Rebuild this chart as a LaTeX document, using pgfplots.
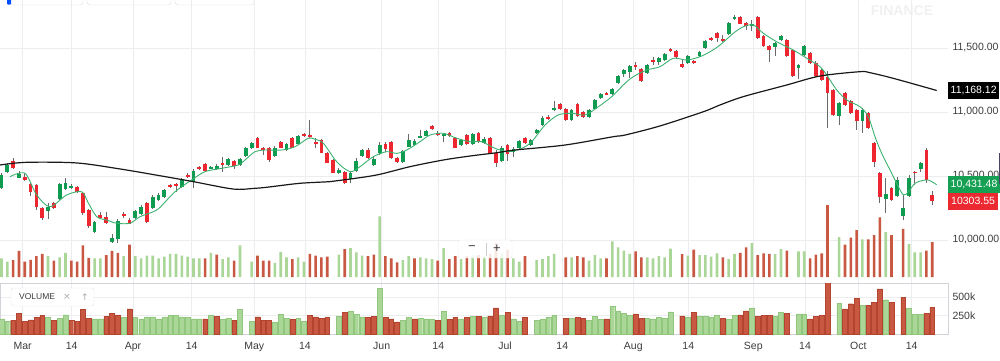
\documentclass[border=0pt]{standalone}
\usepackage{pgfplots}
\pgfplotsset{compat=1.18}
\usepackage{pgfplotstable}
\usepackage{fontspec}
\setmainfont{Liberation Sans}
\newfontfamily\symfont{DejaVu Sans}

\definecolor{cup}{RGB}{16,156,80}
\definecolor{cdn}{RGB}{238,38,48}
\definecolor{wick}{RGB}{105,105,105}
\definecolor{magreen}{RGB}{60,178,112}
\definecolor{mablack}{RGB}{25,25,25}
\definecolor{vg}{RGB}{170,214,152}
\definecolor{vgd}{RGB}{145,198,125}
\definecolor{vr}{RGB}{200,88,66}
\definecolor{vrd}{RGB}{178,68,48}
\definecolor{gridc}{RGB}{236,237,239}
\definecolor{panel}{RGB}{208,212,216}
\definecolor{txt}{RGB}{60,60,60}
\definecolor{tagg}{RGB}{22,160,84}
\definecolor{tagr}{RGB}{236,40,48}

\newcommand\tf{\fontsize{10.5}{12}\selectfont}

% ---------- candles: rising ----------
\pgfplotstableread{
k o h l c
0 10409 10523 10398 10508
1 10534 10599 10527 10586
3 10487 10539 10482 10513
8 10229 10287 10164 10260
10 10318 10445 10313 10435
11 10398 10487 10391 10443
12 10409 10435 10398 10424
16 10065 10148 10055 10138
19 9987 10045 9974 10013
20 10008 10164 9979 10148
23 10170 10234 10164 10227
24 10201 10273 10195 10260
26 10248 10352 10242 10338
27 10313 10365 10305 10352
28 10338 10398 10331 10391
31 10416 10484 10410 10477
33 10456 10552 10409 10541
36 10560 10578 10555 10573
37 10555 10591 10547 10578
39 10586 10638 10578 10631
41 10586 10641 10578 10631
42 10659 10729 10651 10716
43 10716 10766 10711 10756
47 10659 10731 10651 10721
49 10703 10758 10695 10750
51 10748 10820 10742 10813
58 10526 10560 10516 10547
60 10474 10535 10443 10526
61 10539 10638 10531 10617
62 10656 10713 10648 10703
64 10586 10651 10578 10631
65 10677 10763 10664 10742
69 10607 10703 10599 10695
70 10729 10826 10723 10781
71 10742 10789 10734 10776
72 10801 10859 10795 10807
73 10815 10863 10809 10854
76 10818 10838 10768 10828
79 10740 10789 10731 10781
81 10748 10836 10742 10826
83 10756 10807 10748 10787
86 10620 10731 10612 10721
88 10685 10723 10651 10711
89 10716 10781 10711 10773
91 10742 10789 10734 10781
92 10834 10870 10826 10859
93 10898 10965 10891 10956
95 11016 11086 11008 11034
98 10938 11023 10930 11016
101 10963 11023 10953 11016
102 11023 11102 11016 11094
103 11107 11146 11099 11138
105 11138 11190 11131 11177
106 11224 11293 11216 11284
107 11295 11336 11276 11328
108 11315 11367 11268 11359
111 11302 11375 11295 11367
113 11388 11432 11367 11424
114 11406 11461 11398 11453
118 11381 11443 11373 11435
120 11438 11479 11430 11471
121 11504 11563 11496 11555
125 11606 11701 11598 11693
126 11727 11758 11719 11742
129 11674 11719 11633 11685
133 11510 11549 11435 11541
134 11563 11602 11555 11594
137 11341 11375 11256 11367
138 11445 11523 11438 11516
144 10969 11081 10898 11073
148 10932 11029 10834 11016
152 10320 10482 10213 10357
154 10344 10495 10336 10469
155 10190 10352 10156 10248
156 10346 10508 10338 10487
158 10555 10607 10531 10599
}\upc

% ---------- candles: falling ----------
\pgfplotstableread{
k o h l c
2 10617 10638 10555 10560
4 10495 10521 10461 10466
5 10438 10445 10346 10373
6 10430 10438 10234 10260
7 10248 10258 10159 10170
9 10287 10299 10242 10248
13 10416 10424 10365 10377
14 10365 10375 10195 10209
15 10232 10242 10096 10112
17 10195 10221 10164 10170
18 10182 10221 10125 10131
21 10203 10221 10174 10188
22 10156 10170 10123 10127
25 10287 10297 10131 10143
29 10430 10440 10404 10414
30 10438 10448 10377 10422
32 10508 10526 10482 10490
34 10570 10581 10545 10555
35 10591 10599 10534 10539
38 10602 10646 10534 10586
40 10617 10625 10552 10581
44 10795 10805 10715 10721
45 10721 10729 10664 10701
46 10716 10724 10612 10625
48 10768 10777 10715 10721
50 10795 10805 10715 10721
52 10826 10834 10802 10810
53 10820 10938 10795 10805
54 10768 10795 10716 10750
55 10781 10789 10676 10682
56 10682 10690 10598 10604
57 10625 10633 10520 10526
59 10534 10541 10435 10448
63 10703 10721 10631 10638
66 10748 10768 10690 10709
67 10768 10777 10631 10638
68 10643 10651 10599 10607
74 10893 10902 10859 10865
75 10838 10848 10813 10820
77 10834 10841 10807 10815
78 10795 10802 10715 10721
80 10823 10832 10742 10748
82 10834 10846 10760 10768
84 10795 10802 10670 10677
85 10677 10703 10573 10599
87 10742 10750 10617 10670
90 10795 10802 10748 10756
94 10963 10977 10938 10951
96 11063 11070 11016 11023
97 11023 11031 10930 10938
99 11063 11070 10961 10969
100 11002 11010 10956 10963
104 11151 11160 11131 11138
109 11367 11388 11328 11349
110 11334 11341 11234 11242
112 11406 11432 11367 11388
115 11492 11500 11466 11474
116 11474 11482 11418 11426
117 11373 11406 11346 11354
119 11398 11406 11373 11381
122 11576 11586 11552 11560
123 11615 11623 11549 11582
124 11568 11602 11545 11555
127 11742 11750 11684 11691
128 11693 11701 11641 11674
130 11746 11754 11568 11576
131 11594 11602 11508 11516
132 11516 11523 11393 11484
135 11563 11570 11430 11438
136 11481 11488 11277 11285
139 11463 11471 11373 11381
140 11381 11398 11273 11281
141 11326 11334 11242 11250
142 11276 11323 10873 11146
143 11172 11180 10969 10977
145 11146 11154 11047 11055
146 11088 11096 10982 10990
147 11016 11023 10859 10932
149 10990 10998 10865 10873
150 10760 10768 10573 10612
151 10521 10529 10291 10338
153 10404 10412 10305 10313
157 10534 10541 10430 10521
159 10703 10716 10448 10469
160 10352 10385 10273 10303.55
}\dnc

% ---------- volume (thousands) ----------
\pgfplotstableread{
k v
0 205
1 173
8 228
10 214
11 260
16 205
17 205
21 228
23 228
24 205
25 232
26 232
27 205
28 223
29 250
30 250
31 232
32 223
33 205
34 205
36 260
38 196
39 214
41 332
43 173
47 159
48 269
49 214
51 214
52 173
58 241
60 305
61 264
62 232
65 619
69 187
70 228
72 214
73 205
74 196
76 305
79 196
81 237
83 228
86 250
88 205
89 173
92 187
93 196
94 228
95 250
98 214
101 182
102 237
103 205
105 373
106 314
107 282
108 250
111 214
112 205
113 228
114 214
115 300
118 232
120 237
121 237
122 223
123 255
125 196
126 250
129 355
133 246
134 296
137 273
138 273
144 414
148 392
152 464
156 346
157 264
158 264
}\volG

\pgfplotstableread{
k v
2 187
3 278
4 173
5 191
6 228
7 250
9 182
12 182
13 173
14 332
15 209
18 237
19 278
20 260
22 341
35 205
37 241
40 182
44 232
45 182
46 182
50 196
53 250
54 232
55 214
56 223
59 296
63 228
64 241
66 228
67 205
68 164
71 205
75 182
77 196
78 228
80 228
82 237
84 246
85 355
87 291
90 228
97 214
99 228
100 214
104 205
109 273
110 214
117 246
119 291
124 214
127 260
128 314
130 237
131 255
132 250
135 282
139 205
140 241
141 255
142 730
145 341
146 410
147 483
149 392
150 433
151 610
153 433
155 496
159 282
160 364
}\volR

% ---------- moving averages ----------
\pgfplotstableread{
k p
1.46 10495
4.04 10521
6.05 10352
8.34 10260
11.21 10352
13.79 10377
14.92 10290
16.37 10182
18.09 10156
19.8 10131
22.09 10131
23.81 10182
26.1 10221
27.25 10255
29.83 10377
32.7 10469
34.98 10534
37.85 10560
40.71 10586
41.86 10625
43.58 10690
45.3 10703
48.17 10703
50.46 10729
52.74 10795
53.9 10787
55.32 10756
57.62 10612
59.91 10534
61.63 10573
63.92 10651
66.22 10690
67.94 10677
69.66 10703
71.94 10768
73.66 10820
75.95 10834
78.25 10795
80.54 10768
82.55 10768
84.84 10716
87.12 10690
89.43 10716
91.15 10768
93.43 10898
95.72 10977
98.02 10990
100.31 10977
102.6 11041
104.9 11120
107.19 11224
108.61 11276
110.92 11328
113.2 11354
115.49 11420
117.79 11406
120.08 11432
121.8 11471
123.52 11523
125.8 11615
127.52 11666
129.24 11680
130.96 11615
133.26 11549
136.12 11484
138.42 11420
140.71 11354
141.86 11289
143.58 11172
145.3 11094
147.59 11041
149.01 10963
150.16 10807
151.31 10677
152.74 10547
153.89 10443
155.03 10352
155.89 10377
157.04 10443
158.19 10463
159.33 10469
160.77 10431.48
}\maG

\pgfplotstableread{
k p
-0.26 10586
4.33 10607
12.93 10602
20.37 10555
27.25 10502
32.97 10456
39.85 10398
43.58 10404
45.59 10412
51.31 10443
56.47 10456
58.76 10469
64.5 10508
70.23 10573
75.95 10625
80.54 10656
85.13 10682
88.28 10703
96.87 10742
105.17 10807
107.19 10820
113.2 10891
120.65 11002
123.52 11055
127.52 11120
134.98 11211
140.71 11281
147.59 11315
149.3 11307
153.31 11263
160.77 11168.12
}\maB

\begin{document}
\begin{tikzpicture}[x=1pt,y=1pt]
\useasboundingbox (0,0) rectangle (1000,360);
\clip (0,0) rectangle (1000,360);

% top toolbar fragments and watermark
\draw[gray!25, fill=white, rounded corners=3pt] (10,355) rectangle (83,372);
\draw[gray!25, fill=white, rounded corners=3pt] (87,355) rectangle (171,372);
\draw[gray!25, fill=white, rounded corners=3pt] (175,355) rectangle (254,372);
\fill[blue!70!cyan, rounded corners=1pt] (7,355.5) rectangle (11,362);
\node[font=\bfseries\fontsize{14}{16}\selectfont, text=gray!12, inner sep=0pt] at (902,349) {FINANCE};

% background: grid and price labels, month labels
\begin{axis}[at={(0pt,26pt)}, anchor=south west, scale only axis,
  width=948pt, height=334pt,
  xmin=-0.258, xmax=162.71, ymin=9265.6, ymax=11875,
  axis line style={draw=none}, major tick length=0pt,
  xmajorgrids, ymajorgrids, grid style={gridc, line width=0.7pt},
  xtick={3.64,12.07,22.6,32.7,43.46,52.17,65.36,75.09,86.56,96.4,108.61,118.07,129.24,138.13,147.29,156.47},
  xticklabels={Mar,14,Apr,14,May,14,Jun,14,Jul,14,Aug,14,Sep,14,Oct,14},
  xticklabel style={font=\tf, text=txt, yshift=-4.5pt},
  ytick={10000,10500,11000,11500},
  yticklabels={{10,000.00},{10,500.00},{11,000.00},{11,500.00}},
  yticklabel pos=right,
  yticklabel style={font=\tf, text=txt, anchor=west, xshift=1pt},
]
\addplot[draw=none] coordinates {(0,10000)};
\end{axis}

% volume overlay in price panel
\begin{axis}[at={(0pt,83pt)}, anchor=south west, scale only axis,
  width=948pt, height=277pt,
  xmin=-0.258, xmax=162.71, ymin=20.7, ymax=2755,
  hide axis, ybar, bar width=2.6pt, bar shift=0pt]
\addplot[fill=vg, draw=none] table[x=k,y=v]{\volG};
\addplot[fill=vr, draw=none] table[x=k,y=v]{\volR};
\end{axis}

% bottom volume panel
\begin{axis}[at={(0pt,26pt)}, anchor=south west, scale only axis,
  width=948pt, height=51pt,
  xmin=-0.258, xmax=162.71, ymin=0, ymax=690,
  ybar, bar width=4.8pt, bar shift=0pt,
  axis line style={panel, line width=0.8pt},
  xtick=\empty, ytick={250,500}, yticklabels={250k,500k},
  yticklabel pos=right,
  yticklabel style={font=\tf, text=txt, anchor=west, xshift=1pt},
  major tick length=0pt, ymajorgrids, grid style={gridc, line width=0.6pt}]
\addplot[fill=vg, draw=vgd, line width=0.4pt] table[x=k,y=v]{\volG};
\addplot[fill=vr, draw=vrd, line width=0.4pt] table[x=k,y=v]{\volR};
\end{axis}

% price panel
\begin{axis}[at={(0pt,26pt)}, anchor=south west, scale only axis,
  width=948pt, height=334pt,
  xmin=-0.258, xmax=162.71, ymin=9265.6, ymax=11875,
  hide axis, clip=false]
% wicks
\addplot[draw=none, forget plot, error bars/.cd, y dir=both, y explicit, error mark=none,
  error bar style={draw=wick, line width=0.9pt}]
  table[x=k, y expr={(\thisrow{h}+\thisrow{l})/2}, y error expr={(\thisrow{h}-\thisrow{l})/2}] {\upc};
\addplot[draw=none, forget plot, error bars/.cd, y dir=both, y explicit, error mark=none,
  error bar style={draw=wick, line width=0.9pt}]
  table[x=k, y expr={(\thisrow{h}+\thisrow{l})/2}, y error expr={(\thisrow{h}-\thisrow{l})/2}] {\dnc};
% bodies
\addplot[draw=none, forget plot, error bars/.cd, y dir=both, y explicit, error mark=none,
  error bar style={draw=cup, line width=3.8pt}]
  table[x=k, y expr={(\thisrow{o}+\thisrow{c})/2}, y error expr={max(abs(\thisrow{o}-\thisrow{c})/2,6)}] {\upc};
\addplot[draw=none, forget plot, error bars/.cd, y dir=both, y explicit, error mark=none,
  error bar style={draw=cdn, line width=3.8pt}]
  table[x=k, y expr={(\thisrow{o}+\thisrow{c})/2}, y error expr={max(abs(\thisrow{o}-\thisrow{c})/2,6)}] {\dnc};
% moving averages
\addplot[magreen, line width=0.9pt, smooth, mark=none] table[x=k,y=p]{\maG};
\addplot[mablack, line width=1.2pt, smooth, mark=none] table[x=k,y=p]{\maB};
% last-value tags
\node[fill=black, text=white, font=\tf, anchor=west, inner xsep=2.5pt, minimum height=17pt] at (axis cs:162.71,11168.12) {11,168.12};
\node[fill=tagg, text=white, font=\tf, anchor=west, inner xsep=2.5pt, minimum height=17pt] at (axis cs:162.71,10431.48) {10,431.48};
\node[fill=tagr, text=white, font=\tf, anchor=west, inner xsep=3pt, minimum height=17pt] at (axis cs:162.71,10303.55) {10303.55};
\end{axis}

% zoom control
\draw[gray!20, fill=white, fill opacity=0.85, rounded corners=2pt] (458,102) rectangle (512,120);
\node[text=txt, font=\fontsize{13}{14}\selectfont] at (472,111.5) {−};
\node[text=txt, font=\fontsize{13}{14}\selectfont] at (497,111.5) {+};
\draw[gray!40, line width=0.7pt] (486,104.5) -- (486,117.5);

% volume legend box
\draw[gray!20, fill=white, rounded corners=2.5pt] (11,54) rectangle (94,72);
\node[anchor=west, text=txt, font=\fontsize{8.5}{10}\selectfont, inner sep=0pt] at (19,63) {VOLUME};
\node[text=gray!70, font=\symfont\fontsize{9}{10}\selectfont, inner sep=0pt] at (67,63) {×};
\node[text=gray!70, font=\symfont\fontsize{9}{10}\selectfont, inner sep=0pt] at (85,63) {↑};

% right edge marker
\draw[line width=1.2pt, color={rgb,255:red,70;green,70;blue,100}] (999.4,176) -- (999.4,207);
\end{tikzpicture}
\end{document}
